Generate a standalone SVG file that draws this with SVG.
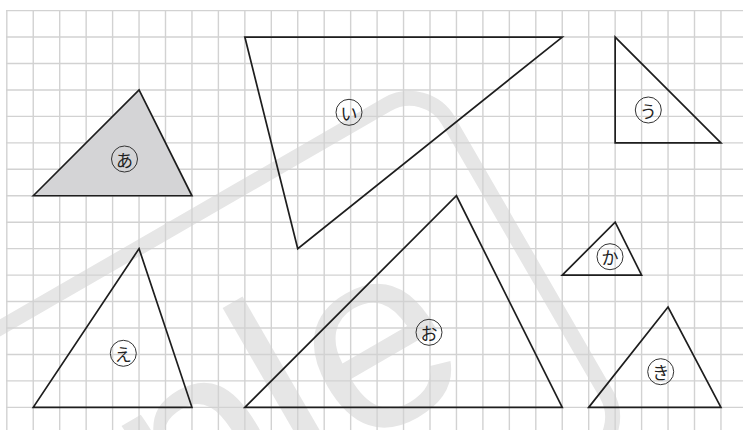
<svg xmlns="http://www.w3.org/2000/svg" width="743" height="430" viewBox="0 0 743 430">
<style>
.grid{fill:none;stroke:#d2d2d2;stroke-width:1.4}
.wm{fill:none;stroke:#e6e6e6;stroke-width:15}
.wmt{fill:#e6e6e6;font-family:"Liberation Sans",Arial,sans-serif;font-size:262px}
.tri{fill:none;stroke:#1e1e1e;stroke-width:1.7;stroke-linejoin:miter}
.shaded{fill:#d4d4d6}
.lc{fill:none;stroke:#333;stroke-width:1}
.lt{fill:#222;font-family:"Noto Sans CJK JP","Noto Sans CJK SC",sans-serif;font-size:17px;text-anchor:middle;dominant-baseline:central}
</style>
<rect width="743" height="430" fill="#fff"/>
<g id="watermark" transform="rotate(-30)">
<rect class="wm" x="-800" y="284" width="1128" height="406" rx="45"/>
<text class="wmt" x="225" y="568" text-anchor="end">Sample</text>
</g>
<path class="grid" d="M6.8 10.6V430M33.25 10.6V430M59.7 10.6V430M86.15 10.6V430M112.6 10.6V430M139.05 10.6V430M165.5 10.6V430M191.95 10.6V430M218.4 10.6V430M244.85 10.6V430M271.3 10.6V430M297.75 10.6V430M324.2 10.6V430M350.65 10.6V430M377.1 10.6V430M403.55 10.6V430M430 10.6V430M456.45 10.6V430M482.9 10.6V430M509.35 10.6V430M535.8 10.6V430M562.25 10.6V430M588.7 10.6V430M615.15 10.6V430M641.6 10.6V430M668.05 10.6V430M694.5 10.6V430M720.95 10.6V430M6 10.6H743M6 37.05H743M6 63.5H743M6 89.95H743M6 116.4H743M6 142.85H743M6 169.3H743M6 195.75H743M6 222.2H743M6 248.65H743M6 275.1H743M6 301.55H743M6 328H743M6 354.45H743M6 380.9H743M6 407.35H743"/>
<g id="tri-a">
<polygon class="tri shaded" points="33.25,195.75 139.05,89.95 191.95,195.75"/>
<circle class="lc" cx="124.5" cy="159" r="13"/>
<text class="lt" x="124.5" y="159">あ</text>
</g>
<g id="tri-i">
<polygon class="tri" points="244.85,37.05 562.25,37.05 297.75,248.65"/>
<circle class="lc" cx="349" cy="112.3" r="13"/>
<text class="lt" x="349" y="112.3">い</text>
</g>
<g id="tri-u">
<polygon class="tri" points="615.15,37.05 615.15,142.85 720.95,142.85"/>
<circle class="lc" cx="648.3" cy="110" r="13"/>
<text class="lt" x="648.3" y="110">う</text>
</g>
<g id="tri-e">
<polygon class="tri" points="139.05,248.65 33.25,407.35 191.95,407.35"/>
<circle class="lc" cx="123.3" cy="353.3" r="13"/>
<text class="lt" x="123.3" y="353.3">え</text>
</g>
<g id="tri-o">
<polygon class="tri" points="244.85,407.35 456.45,195.75 562.25,407.35"/>
<circle class="lc" cx="429" cy="332.3" r="13"/>
<text class="lt" x="429" y="332.3">お</text>
</g>
<g id="tri-ka">
<polygon class="tri" points="562.25,275.1 615.15,222.2 641.6,275.1"/>
<circle class="lc" cx="610" cy="256.7" r="13"/>
<text class="lt" x="610" y="256.7">か</text>
</g>
<g id="tri-ki">
<polygon class="tri" points="588.7,407.35 668.05,307 720.95,407.35"/>
<circle class="lc" cx="660.7" cy="371.7" r="13"/>
<text class="lt" x="660.7" y="371.7">き</text>
</g>
<g id="connectors"/>
</svg>
